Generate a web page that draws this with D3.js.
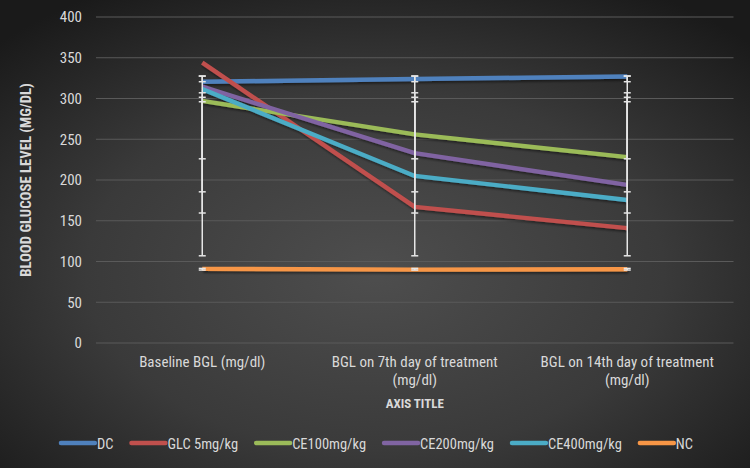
<!DOCTYPE html>
<html><head><meta charset="utf-8">
<script src="https://cdn.jsdelivr.net/npm/d3@7"></script>
<style>html,body{margin:0;padding:0;background:#2a2a2a;}svg{display:block;}</style>
</head><body>
<svg id="c" width="750" height="468"></svg>
<script>
const categories = ["Baseline BGL (mg/dl)", "BGL on 7th day of treatment (mg/dl)", "BGL on 14th day of treatment (mg/dl)"];
const seriesNames = ["DC", "GLC 5mg/kg", "CE100mg/kg", "CE200mg/kg", "CE400mg/kg", "NC"];
const seriesColors = ["#4f81bd", "#c0504d", "#9bbb59", "#8064a2", "#4bacc6", "#f79646"];
const DC = [320.5, 324, 327];
const GLC = [344, 167, 141];
const CE100 = [297, 256, 228];
const CE200 = [314.5, 233, 194];
const CE400 = [311.5, 205, 175.5];
const NC = [91, 90, 90.5];
const errLow = [320.6, 107, 226, 185.5, 159.5, 89.5];
const errHigh = [327.6, 327.5, 296, 307, 301.5, 91.5];
const yTicks = [0, 50, 100, 150, 200, 250, 300, 350, 400];
const yTitle = "BLOOD GLUCOSE LEVEL (MG/DL)";
const xTitle = "AXIS TITLE";
const values = [DC, GLC, CE100, CE200, CE400, NC];

const FONT = "'Liberation Sans Narrow','Roboto Condensed',Roboto,sans-serif";
const svg = d3.select("#c");
const W = 750, H = 468;
const defs = svg.append("defs");
const rg = defs.append("radialGradient").attr("id","bg").attr("cx","50%").attr("cy","58%").attr("r","70%");
rg.append("stop").attr("offset","0%").attr("stop-color","#4e4e4e");
rg.append("stop").attr("offset","55%").attr("stop-color","#3a3a3a");
rg.append("stop").attr("offset","100%").attr("stop-color","#1a1a1a");
const sh = defs.append("filter").attr("id","sh").attr("x","-5%").attr("y","-20%").attr("width","110%").attr("height","140%");
sh.append("feDropShadow").attr("dx",1).attr("dy",2).attr("stdDeviation",1.2).attr("flood-color","#000").attr("flood-opacity",0.45);

svg.append("rect").attr("width",W).attr("height",H).attr("fill","url(#bg)");

const m = {l:96, r:733.5, t:17, b:343};
const x = d3.scaleBand().domain(categories).range([m.l, m.r]);
const y = d3.scaleLinear().domain([0,400]).range([m.b, m.t]);
const cx = c => x(c) + x.bandwidth()/2;

// grid
svg.append("g").selectAll("line").data(yTicks).join("line")
  .attr("x1", m.l).attr("x2", m.r).attr("y1", d=>y(d)).attr("y2", d=>y(d))
  .attr("stroke","#5a5a5a").attr("stroke-width",1.2);

// y axis labels
const ya = svg.append("g").attr("transform",`translate(${m.l-6},0)`)
  .call(d3.axisLeft(y).tickValues(yTicks).tickSize(0).tickPadding(8));
ya.select(".domain").remove();
ya.selectAll("text").attr("fill","#d9d9d9").style("font-family",FONT).style("font-size","15px");

// x axis labels (wrapped)
const xg = svg.append("g");
categories.forEach(c => {
  const lines = [];
  if (c.length > 22) {
    const idx = c.lastIndexOf(" (");
    lines.push(c.slice(0, idx), c.slice(idx+1));
  } else lines.push(c);
  const t = xg.append("text").attr("x", cx(c)).attr("y", 367).attr("text-anchor","middle")
    .attr("fill","#d9d9d9").style("font-family",FONT).style("font-size","15px");
  lines.forEach((l,i)=> t.append("tspan").attr("x", cx(c)).attr("dy", i? 18:0).text(l));
});

// titles
svg.append("text").attr("x", cx(categories[1])).attr("y", 408).attr("text-anchor","middle")
  .attr("fill","#d9d9d9").style("font-family",FONT).style("font-size","13px").style("font-weight","bold").text(xTitle);
svg.append("text").attr("transform",`translate(31,${(m.t+m.b)/2}) rotate(-90)`).attr("text-anchor","middle")
  .attr("fill","#d9d9d9").style("font-family",FONT).style("font-size","14.7px").style("font-weight","bold").text(yTitle);

// lines
const line = d3.line().x((d,i)=>cx(categories[i])).y(d=>y(d));
svg.append("g").attr("filter","url(#sh)").selectAll("path").data(values).join("path")
  .attr("d", d=>line(d)).attr("fill","none")
  .attr("stroke",(d,i)=>seriesColors[i]).attr("stroke-width",4.4)
  .attr("stroke-linejoin","round").attr("stroke-linecap","butt");

// error bars
const eg = svg.append("g").attr("stroke","#e6e6e6").attr("stroke-width",1.5);
values.forEach((vals, s) => {
  categories.forEach(c => {
    const xc = cx(c);
    eg.append("line").attr("x1",xc).attr("x2",xc).attr("y1",y(errLow[s])).attr("y2",y(errHigh[s]));
    [errLow[s], errHigh[s]].forEach(v => eg.append("line").attr("x1",xc-3.5).attr("x2",xc+3.5).attr("y1",y(v)).attr("y2",y(v)));
  });
});

// legend (centered)
const lg = svg.append("g");
let lx = 0;
seriesNames.forEach((n,i) => {
  const g = lg.append("g").attr("transform",`translate(${lx},0)`);
  g.append("line").attr("x1",0).attr("x2",34).attr("y1",443).attr("y2",443)
    .attr("stroke",seriesColors[i]).attr("stroke-width",4.4).attr("stroke-linecap","round");
  const t = g.append("text").attr("x",36).attr("y",448.5).attr("fill","#d9d9d9")
    .style("font-family",FONT).style("font-size","14.5px").text(n);
  lx = lx + 36 + t.node().getComputedTextLength() + 18;
});
const total = lx - 18;
lg.attr("transform",`translate(${377 - total/2},0)`);
</script>
</body></html>
